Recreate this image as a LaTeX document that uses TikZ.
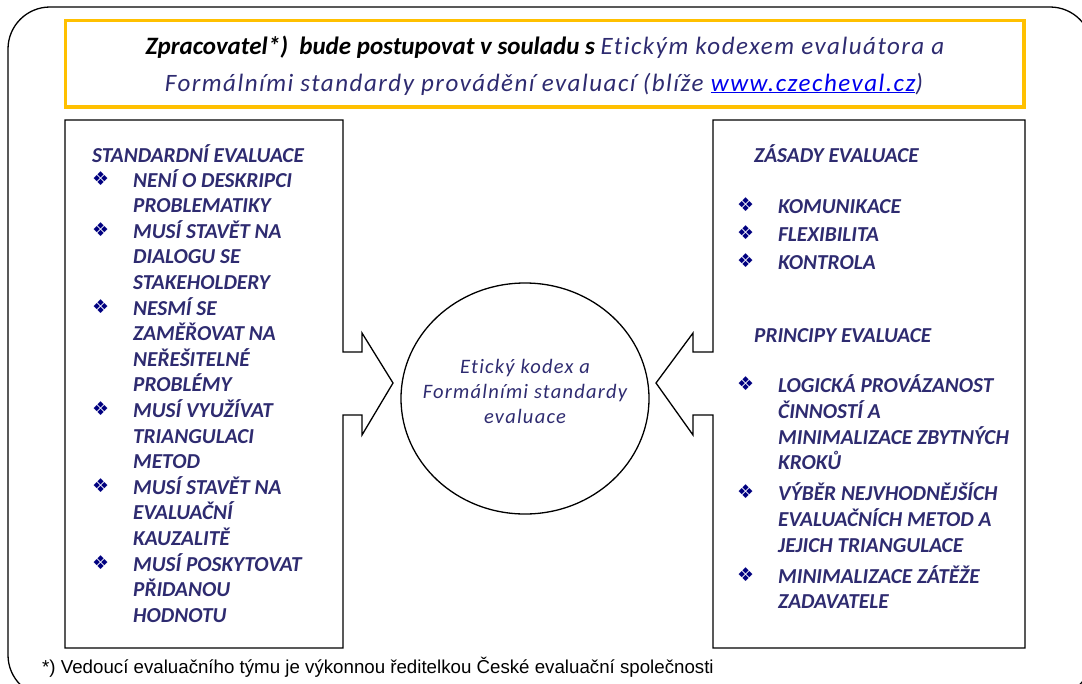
\documentclass[tikz,border=0pt]{standalone}
\usepackage{fontspec}
\setmainfont{Carlito}
\newfontfamily\spacedfont[LetterSpace=6.0,Ligatures=NoCommon]{Carlito}
\newfontfamily\bulfont{DejaVu Sans}
\newfontfamily\footfont{Liberation Sans}
\usetikzlibrary{shapes.geometric}
\definecolor{navy}{RGB}{46,43,112}
\definecolor{bulblue}{RGB}{0,0,128}
\definecolor{gold}{RGB}{255,192,0}
\definecolor{linkblue}{RGB}{0,0,238}
\newcommand{\bul}{{\color{bulblue}\bulfont\fontsize{19}{19}\selectfont ❖}}
\tikzset{
  frame/.style={draw=black, line width=1.3pt},
  listtxt/.style={anchor=base west, inner sep=0pt, text=navy, font=\fontsize{21.3}{24}\selectfont\bfseries\itshape},
  bulnode/.style={anchor=base west, inner sep=0pt},
}
\begin{document}
\begin{tikzpicture}[x=1pt,y=-1pt]
\useasboundingbox (0,0) rectangle (1082,683);
\clip (0,0) rectangle (1082,683);
% outer rounded frame
\draw[line width=1.3pt, rounded corners=42pt] (8,7) rectangle (1092,697);
% header box
\draw[gold, line width=3.2pt] (65.5,20.5) rectangle (1024,107);
\node[anchor=base, inner sep=0pt] (h1) at (545,54)
  {\fontsize{25}{28}\selectfont\bfseries\itshape Zpracovatel*)\ \ bude postupovat v souladu s {\color{navy}\spacedfont\mdseries Etickým kodexem evaluátora a}};
\node[anchor=base, inner sep=0pt, text=navy] (h2) at (544,91)
  {\fontsize{25}{28}\selectfont\spacedfont\itshape Formálními standardy provádění evaluací (blíže {\color{linkblue}\underline{www.czecheval.cz}})};
% left callout
\draw[frame] (65,120) -- (343,120) -- (343,352) -- (362,352) -- (362,333) -- (393,383)
  -- (362,435) -- (362,415) -- (343,415) -- (343,648) -- (65,648) -- cycle;
% right callout
\draw[frame] (1025,120) -- (713,120) -- (713,352) -- (693,352) -- (693,333) -- (656,383)
  -- (693,435) -- (693,415) -- (713,415) -- (713,648) -- (1025,648) -- cycle;
% central ellipse
\node[draw, line width=1.3pt, ellipse, minimum width=248pt, minimum height=231pt, inner sep=0pt] (core) at (525,398.5) {};
\node[align=center, inner sep=0pt, text=navy, font=\fontsize{20.5}{25}\selectfont\spacedfont\itshape] (coretxt) at (525,391)
  {Etický kodex a\\Formálními standardy\\evaluace};
% left list
\node[listtxt] (lh) at (92,162) {STANDARDNÍ EVALUACE};
\foreach \i/\y/\b/\t in {
  1/187/1/NENÍ O DESKRIPCI,
  2/212.6/0/PROBLEMATIKY,
  3/238.2/1/MUSÍ STAVĚT NA,
  4/263.8/0/DIALOGU SE,
  5/289.4/0/STAKEHOLDERY,
  6/315/1/NESMÍ SE,
  7/340.6/0/ZAMĚŘOVAT NA,
  8/366.2/0/NEŘEŠITELNÉ,
  9/391.8/0/PROBLÉMY,
  10/417.4/1/MUSÍ VYUŽÍVAT,
  11/443/0/TRIANGULACI,
  12/468.6/0/METOD,
  13/494.2/1/MUSÍ STAVĚT NA,
  14/519.8/0/EVALUAČNÍ,
  15/545.4/0/KAUZALITĚ,
  16/571/1/MUSÍ POSKYTOVAT,
  17/596.6/0/PŘIDANOU,
  18/622.2/0/HODNOTU}{
  \node[listtxt] (l\i) at (133,\y) {\t};
  \ifnum\b=1 \node[bulnode] (lb\i) at (92,\y-2) {\bul}; \fi
}
% right lists
\node[listtxt] (zh) at (754,162) {ZÁSADY EVALUACE};
\foreach \i/\y/\t in {1/213/KOMUNIKACE, 2/241/FLEXIBILITA, 3/269/KONTROLA}{
  \node[listtxt] (z\i) at (778,\y) {\t};
  \node[bulnode] (zb\i) at (737,\y-2) {\bul};
}
\node[listtxt] (ph) at (754,342) {PRINCIPY EVALUACE};
\foreach \i/\y/\b/\t in {
  1/392/1/LOGICKÁ PROVÁZANOST,
  2/418/0/ČINNOSTÍ A,
  3/444/0/MINIMALIZACE ZBYTNÝCH,
  4/469/0/KROKŮ,
  5/500/1/VÝBĚR NEJVHODNĚJŠÍCH,
  6/526/0/EVALUAČNÍCH METOD A,
  7/552/0/JEJICH TRIANGULACE,
  8/583/1/MINIMALIZACE ZÁTĚŽE,
  9/608/0/ZADAVATELE}{
  \node[listtxt] (p\i) at (778,\y) {\t};
  \ifnum\b=1 \node[bulnode] (pb\i) at (737,\y-2) {\bul}; \fi
}
% footnote
\node[anchor=base west, inner sep=0pt, font=\footfont\fontsize{18.7}{22}\selectfont] (foot) at (42,673)
  {*) Vedoucí evaluačního týmu je výkonnou ředitelkou České evaluační společnosti};
\end{tikzpicture}
\end{document}
